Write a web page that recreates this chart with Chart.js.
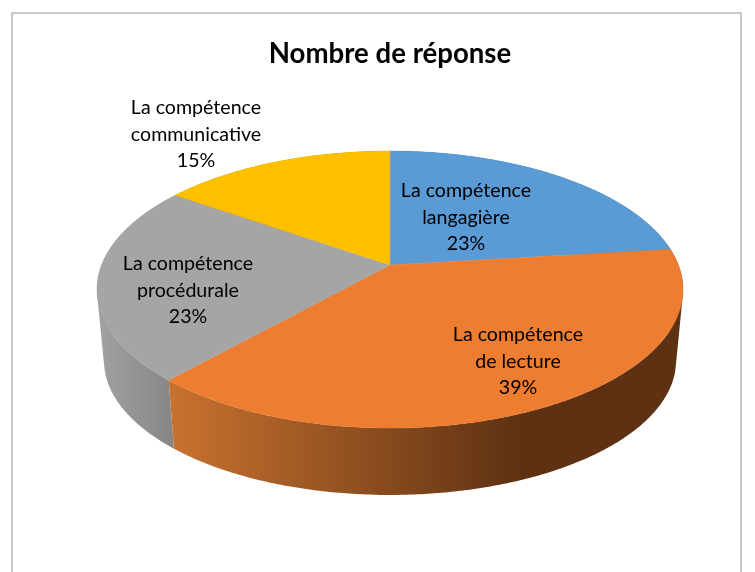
<!DOCTYPE html>
<html lang="fr"><head><meta charset="utf-8">
<style>html,body{margin:0;padding:0;background:#fff}canvas{display:block}</style>
<script src="https://cdn.jsdelivr.net/npm/chart.js@4"></script>
</head><body><canvas id="c" width="755" height="572"></canvas>
<script>
const chartTitle = 'Nombre de réponse';
const categories = ['La compétence langagière','La compétence de lecture','La compétence procédurale','La compétence communicative'];
const labelLines = [['La compétence','langagière'],['La compétence','de lecture'],['La compétence','procédurale'],['La compétence','communicative']];
const values = [23.1,38.5,23.1,15.3];
const topColors = ['#5b9bd5','#ed7d31','#a5a5a5','#ffc000'];
const sideStops = [['#3a6186','#3a6186'],['#c8722f','#5e3113'],['#a2a2a2','#858585'],['#a07800','#a07800']];
const sideRange = [[400,690],[172,520],[97,176],[170,390]];
const labelCentres = [[466,191],[518,335],[188,264],[196,108]];
const labelLeading = 26.5;

const topPlane = {cx:390,cy:265,a:288.4,b:134.2,k:0.177};
const basePlane = {cx:390,cy:337,a:281.5,b:130,k:0.177};
function project(p,theta){
  const u=Math.sin(theta), v=-Math.cos(theta), d=1-p.k*v;
  return [p.cx+p.a*u/d, p.cy+p.b*v/d];
}
function trace(ctx,p,t0,t1){
  const n=Math.max(2,Math.ceil(Math.abs(t1-t0)/0.01));
  for(let i=0;i<=n;i++){
    const q=project(p,t0+(t1-t0)*i/n);
    ctx.lineTo(q[0],q[1]);
  }
}
function signedArea(q){
  let s=0;
  for(let i=0;i<q.length;i++){const a=q[i],b=q[(i+1)%q.length];s+=a[0]*b[1]-b[0]*a[1];}
  return s;
}
const pie3d = {
  id:'pie3d',
  beforeDraw(chart){
    const ctx=chart.ctx;
    ctx.save();
    ctx.strokeStyle='#a6a6a6';ctx.lineWidth=1.2;
    ctx.strokeRect(12,13,729,640);
    ctx.restore();
  },
  beforeDatasetsDraw(chart){
    const ctx=chart.ctx, arcs=chart.getDatasetMeta(0).data;
    const ang=arcs.map(a=>[a.startAngle+Math.PI/2,a.endAngle+Math.PI/2]);
    ctx.save();
    [0,3,2,1].forEach(i=>{
      const [t0,t1]=ang[i];
      const g=ctx.createLinearGradient(sideRange[i][0],0,sideRange[i][1],0);
      g.addColorStop(0,sideStops[i][0]);g.addColorStop(1,sideStops[i][1]);
      const n=Math.ceil((t1-t0)/0.01);
      ctx.beginPath();
      for(let s=0;s<n;s++){
        const a0=t0+(t1-t0)*s/n, a1=t0+(t1-t0)*(s+1)/n;
        let q=[project(topPlane,a0),project(topPlane,a1),project(basePlane,a1),project(basePlane,a0)];
        if(signedArea(q)<0) q=q.reverse();
        ctx.moveTo(q[0][0],q[0][1]);
        for(let j=1;j<4;j++) ctx.lineTo(q[j][0],q[j][1]);
        ctx.closePath();
      }
      ctx.fillStyle=g;ctx.fill('nonzero');
    });
    arcs.forEach((a,i)=>{
      const [t0,t1]=ang[i];
      ctx.beginPath();
      ctx.moveTo(topPlane.cx,topPlane.cy);
      trace(ctx,topPlane,t0,t1);
      ctx.closePath();
      ctx.fillStyle=topColors[i];ctx.strokeStyle=topColors[i];ctx.lineWidth=0.4;
      ctx.fill();ctx.stroke();
    });
    ctx.fillStyle='#000';ctx.font='19.6px Lato';ctx.textAlign='center';ctx.textBaseline='middle';
    arcs.forEach((a,i)=>{
      const lines=[...labelLines[i],Math.round(values[i])+'%'];
      lines.forEach((s,j)=>ctx.fillText(s,labelCentres[i][0],labelCentres[i][1]+j*labelLeading));
    });
    ctx.restore();
    return false;
  }
};
new Chart(document.getElementById('c'),{
  type:'pie',
  data:{labels:categories,datasets:[{data:values,backgroundColor:topColors,borderWidth:0}]},
  options:{
    responsive:false,animation:false,
    layout:{padding:{left:25}},
    plugins:{
      legend:{display:false},tooltip:{enabled:false},
      title:{display:true,text:chartTitle,color:'#000',font:{family:'Lato',size:27.6,weight:'bold'},padding:{top:38,bottom:10}}
    }
  },
  plugins:[pie3d]
});
</script></body></html>
